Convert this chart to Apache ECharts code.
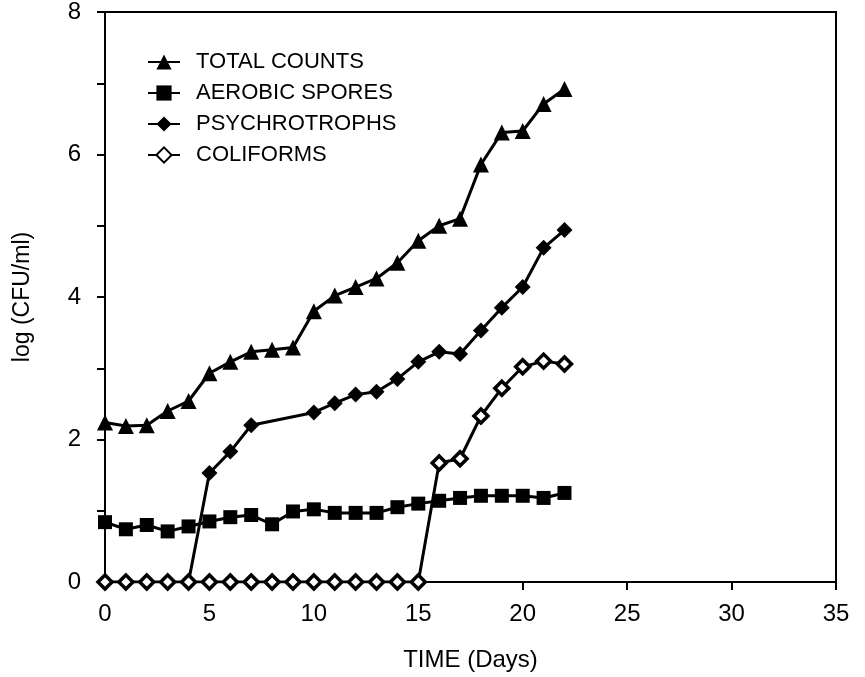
<!DOCTYPE html>
<html>
<head>
    <meta charset="UTF-8">
    <title>Microbial counts over time</title>
    <script src="https://cdn.jsdelivr.net/npm/echarts@6/dist/echarts.min.js"></script>
    <style>
        html, body { margin: 0; padding: 0; background: #fff; }
    </style>
</head>
<body>
    <div id="main" style="width: 865px;height:677px;"></div>
    <script type="text/javascript">
        // days and log counts
        var totalDays = [0, 1, 2, 3, 4, 5, 6, 7, 8, 9, 10, 11, 12, 13, 14, 15, 16, 17, 18, 19, 20, 21, 22];
        var totalCounts = [2.24, 2.19, 2.2, 2.4, 2.54, 2.93, 3.09, 3.23, 3.26, 3.29, 3.8, 4.02, 4.14, 4.26, 4.48, 4.79, 5.0, 5.1, 5.86, 6.31, 6.33, 6.71, 6.92];

        var sporeDays = [0, 1, 2, 3, 4, 5, 6, 7, 8, 9, 10, 11, 12, 13, 14, 15, 16, 17, 18, 19, 20, 21, 22];
        var aerobicSpores = [0.84, 0.74, 0.8, 0.71, 0.78, 0.85, 0.91, 0.94, 0.81, 0.99, 1.02, 0.97, 0.97, 0.97, 1.05, 1.1, 1.14, 1.18, 1.21, 1.21, 1.21, 1.18, 1.25];

        var psychroDays = [4, 5, 6, 7, 10, 11, 12, 13, 14, 15, 16, 17, 18, 19, 20, 21, 22];
        var psychrotrophs = [0, 1.53, 1.83, 2.2, 2.38, 2.51, 2.63, 2.67, 2.85, 3.09, 3.23, 3.2, 3.53, 3.85, 4.14, 4.69, 4.94];

        var coliDays = [0, 1, 2, 3, 4, 5, 6, 7, 8, 9, 10, 11, 12, 13, 14, 15, 16, 17, 18, 19, 20, 21, 22];
        var coliforms = [0, 0, 0, 0, 0, 0, 0, 0, 0, 0, 0, 0, 0, 0, 0, 0, 1.67, 1.73, 2.33, 2.72, 3.02, 3.1, 3.06];

        var seriesNames = ['TOTAL COUNTS', 'AEROBIC SPORES', 'PSYCHROTROPHS', 'COLIFORMS'];

        function pairs(xs, ys) {
            return xs.map(function (x, i) { return [x, ys[i]]; });
        }

        var font = '"Liberation Sans", Arial, Helvetica, sans-serif';
        var myChart = echarts.init(document.getElementById('main'));

        var lineStyle = { color: '#000', width: 3 };

        var option = {
            backgroundColor: '#fff',
            animation: false,
            grid: {
                left: 105,
                right: 29,
                top: 12,
                bottom: 94,
                show: true,
                borderColor: '#000',
                borderWidth: 2
            },
            legend: {
                orient: 'vertical',
                left: 142,
                top: 45,
                itemWidth: 32,
                itemHeight: 19,
                itemGap: 7,
                data: seriesNames,
                textStyle: {
                    fontFamily: font,
                    fontSize: 22,
                    color: '#000',
                    lineHeight: 24,
                    padding: [0, 0, 0, 11]
                }
            },
            xAxis: {
                type: 'value',
                min: 0,
                max: 35,
                interval: 5,
                name: 'TIME (Days)',
                nameLocation: 'middle',
                nameGap: 66,
                nameTextStyle: { fontFamily: font, fontSize: 24, color: '#000' },
                axisLine: { lineStyle: { color: '#000', width: 2 } },
                axisTick: { show: true, inside: false, length: 8, lineStyle: { color: '#000', width: 2 } },
                axisLabel: { fontFamily: font, fontSize: 24, color: '#000', margin: 20 },
                splitLine: { show: false }
            },
            yAxis: {
                type: 'value',
                min: 0,
                max: 8,
                interval: 1,
                name: 'log (CFU/ml)',
                nameLocation: 'middle',
                nameGap: 71,
                nameTextStyle: { fontFamily: font, fontSize: 23, color: '#000' },
                axisLine: { lineStyle: { color: '#000', width: 2 } },
                axisTick: { show: true, inside: false, length: 8, lineStyle: { color: '#000', width: 2 } },
                axisLabel: {
                    fontFamily: font,
                    fontSize: 24,
                    color: '#000',
                    margin: 24,
                    formatter: function (v) { return v % 2 === 0 ? String(v) : ''; }
                },
                splitLine: { show: false }
            },
            series: [
                {
                    name: seriesNames[0],
                    type: 'line',
                    data: pairs(totalDays, totalCounts),
                    symbol: 'triangle',
                    symbolSize: 16,
                    itemStyle: { color: '#000' },
                    lineStyle: lineStyle
                },
                {
                    name: seriesNames[1],
                    type: 'line',
                    data: pairs(sporeDays, aerobicSpores),
                    symbol: 'rect',
                    symbolSize: 14,
                    itemStyle: { color: '#000' },
                    lineStyle: lineStyle
                },
                {
                    name: seriesNames[2],
                    type: 'line',
                    data: pairs(psychroDays, psychrotrophs),
                    symbol: 'diamond',
                    symbolSize: 16,
                    itemStyle: { color: '#000' },
                    lineStyle: lineStyle
                },
                {
                    name: seriesNames[3],
                    type: 'line',
                    data: pairs(coliDays, coliforms),
                    symbol: 'diamond',
                    symbolSize: 14,
                    itemStyle: { color: '#fff', borderColor: '#000', borderWidth: 3.5 },
                    lineStyle: lineStyle
                }
            ]
        };

        myChart.setOption(option);
    </script>
</body>
</html>
